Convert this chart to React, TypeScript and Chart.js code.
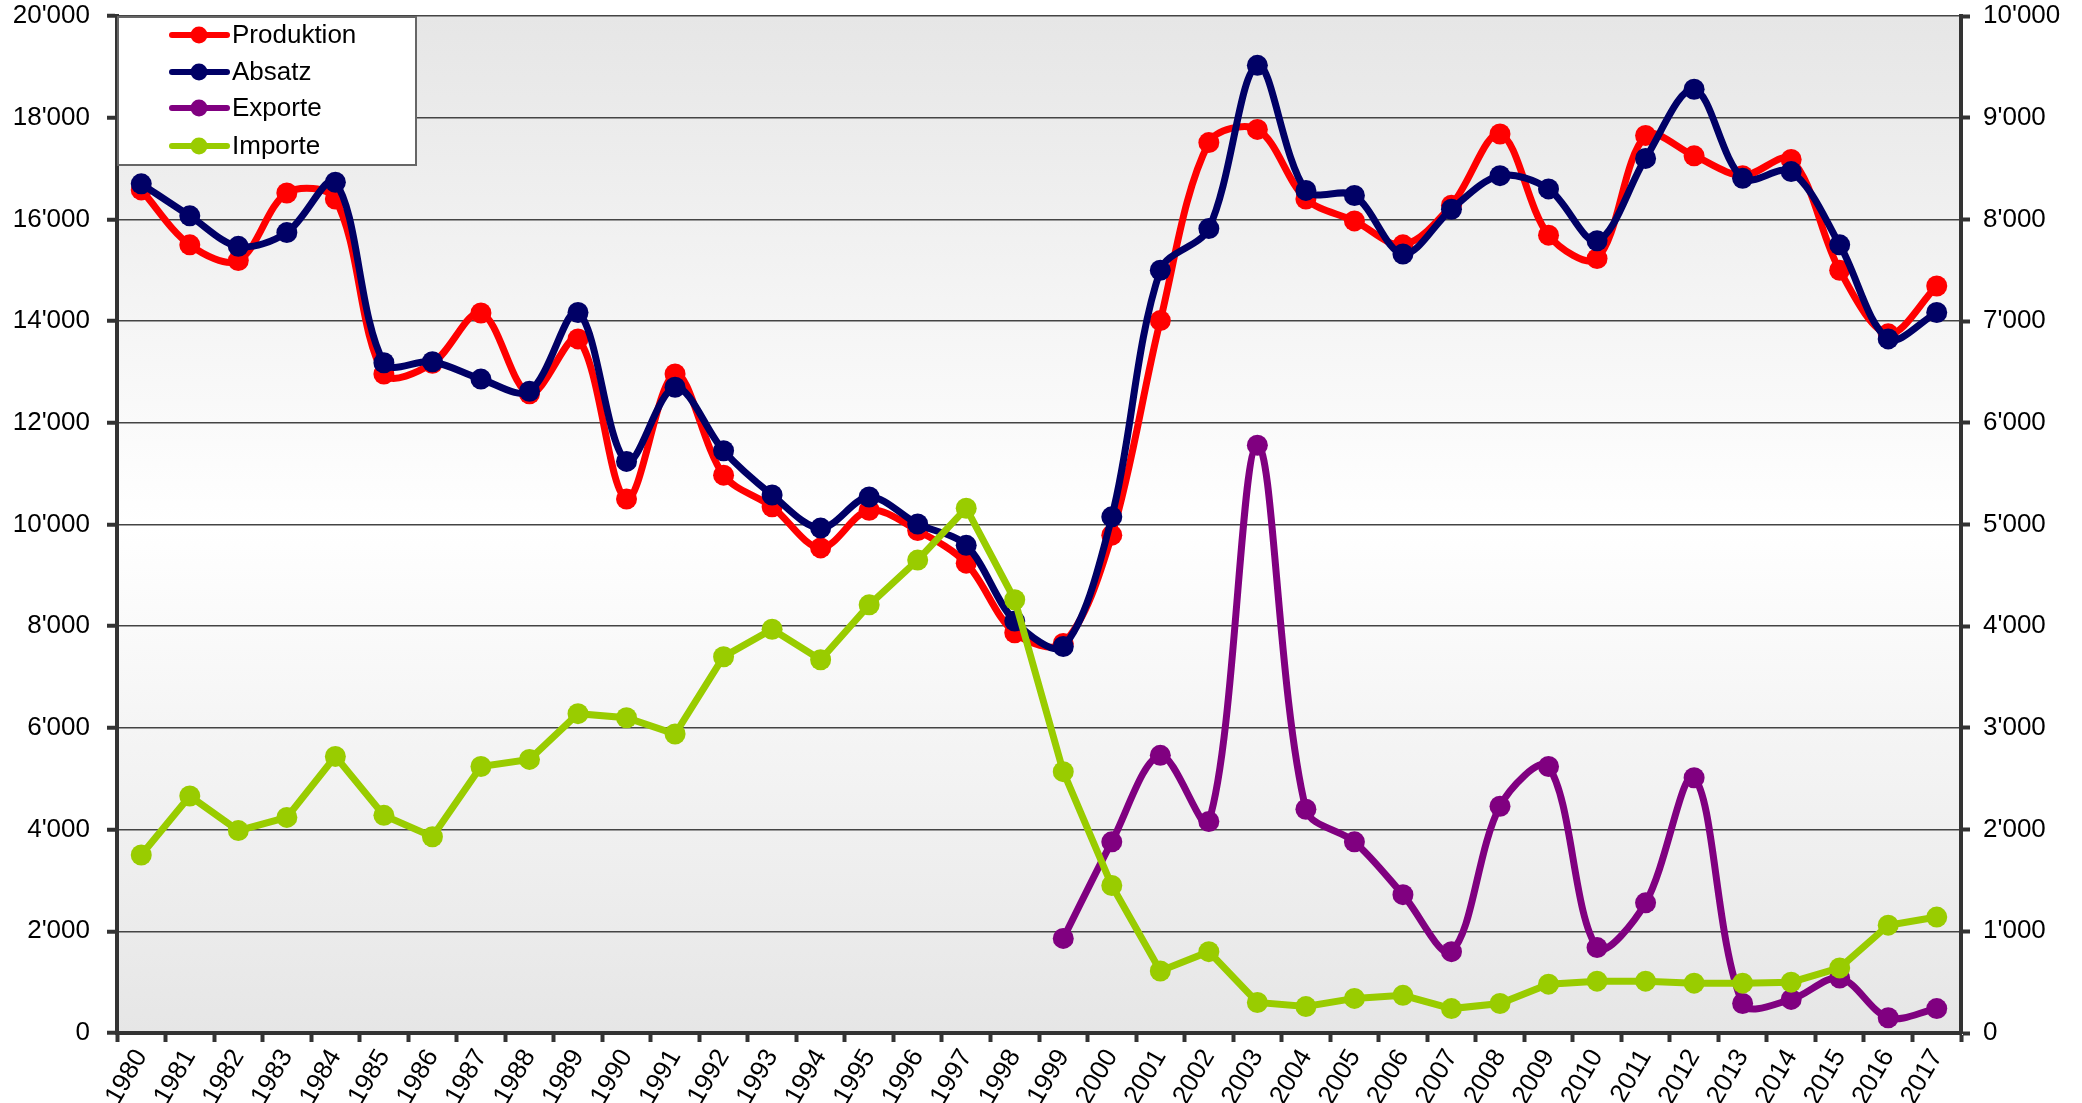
import { useEffect, useRef } from 'react';
import { Chart, registerables } from 'chart.js';

Chart.register(...registerables);

const years = ['1980','1981','1982','1983','1984','1985','1986','1987','1988','1989','1990','1991','1992','1993','1994','1995','1996','1997','1998','1999','2000','2001','2002','2003','2004','2005','2006','2007','2008','2009','2010','2011','2012','2013','2014','2015','2016','2017'];

const produktion = [16580, 15500, 15190, 16520, 16400, 12960, 13170, 14160, 12570, 13650, 10500, 12960, 10970, 10350, 9540, 10280, 9880, 9240, 7870, 7660, 9790, 14010, 17510, 17770, 16400, 15970, 15500, 16280, 17680, 15690, 15230, 17650, 17250, 16860, 17180, 15000, 13750, 14690];

const absatz = [16700, 16070, 15470, 15740, 16730, 13180, 13200, 12860, 12620, 14170, 11240, 12700, 11450, 10580, 9930, 10540, 10010, 9590, 8100, 7600, 10150, 15000, 15820, 19030, 16570, 16470, 15320, 16200, 16860, 16600, 15580, 17200, 18560, 16810, 16940, 15500, 13650, 14170];

const exporte = [null, null, null, null, null, null, null, null, null, null, null, null, null, null, null, null, null, null, null, 930, 1880, 2730, 2080, 5780, 2200, 1880, 1360, 800, 2230, 2620, 840, 1280, 2510, 290, 330, 540, 150, 240];

const importe = [1750, 2330, 1990, 2120, 2720, 2140, 1930, 2620, 2690, 3140, 3100, 2940, 3700, 3970, 3670, 4210, 4650, 5160, 4260, 2570, 1450, 610, 800, 300, 260, 340, 370, 240, 290, 480, 510, 510, 490, 490, 500, 640, 1060, 1140];

const leftMax = 20000;
const leftStep = 2000;
const rightMax = 10000;
const rightStep = 1000;

const seriesNames = ['Produktion', 'Absatz', 'Exporte', 'Importe'];
const seriesColors = ['#ff0000', '#000066', '#800080', '#99cc00'];

const FONT = '"Liberation Sans", Arial, sans-serif';

function fmt(v: number): string {
  const s = Math.round(v).toString();
  return s.length > 3 ? s.slice(0, -3) + "'" + s.slice(-3) : s;
}

const bgPlugin = {
  id: 'bgPlugin',
  beforeDraw(chart: any) {
    const { ctx, chartArea, width, height } = chart;
    ctx.save();
    ctx.fillStyle = '#ffffff';
    ctx.fillRect(0, 0, width, height);
    const g = ctx.createLinearGradient(0, chartArea.top, 0, chartArea.bottom);
    g.addColorStop(0, '#e6e6e6');
    g.addColorStop(0.5, '#ffffff');
    g.addColorStop(1, '#e6e6e6');
    ctx.fillStyle = g;
    ctx.fillRect(chartArea.left, chartArea.top, chartArea.right - chartArea.left, chartArea.bottom - chartArea.top);
    ctx.restore();
  },
};

const legendPlugin = {
  id: 'boxLegend',
  afterDraw(chart: any) {
    const { ctx, chartArea } = chart;
    const x0 = chartArea.left + 1;
    const y0 = chartArea.top + 1;
    const w = 298;
    const h = 148;
    ctx.save();
    ctx.fillStyle = '#ffffff';
    ctx.fillRect(x0, y0, w, h);
    ctx.strokeStyle = '#666666';
    ctx.lineWidth = 2;
    ctx.strokeRect(x0, y0, w, h);
    const rows = [19, 56, 92, 130];
    ctx.font = `26px ${FONT}`;
    ctx.textBaseline = 'middle';
    ctx.textAlign = 'left';
    seriesNames.forEach((name, i) => {
      const y = chartArea.top + rows[i];
      ctx.strokeStyle = seriesColors[i];
      ctx.lineWidth = 6;
      ctx.lineCap = 'round';
      ctx.beginPath();
      ctx.moveTo(172, y);
      ctx.lineTo(227, y);
      ctx.stroke();
      ctx.fillStyle = seriesColors[i];
      ctx.beginPath();
      ctx.arc(199, y, 8.5, 0, Math.PI * 2);
      ctx.fill();
      ctx.fillStyle = '#000000';
      ctx.fillText(name, 232, y + 1);
    });
    ctx.restore();
  },
};

export default function App() {
  const ref = useRef<HTMLCanvasElement>(null);

  useEffect(() => {
    const canvas = ref.current;
    if (!canvas) return;
    const lineDs = (i: number, data: (number | null)[], axis: string, tension: number, order: number) => ({
      label: seriesNames[i],
      data,
      yAxisID: axis,
      borderColor: seriesColors[i],
      backgroundColor: seriesColors[i],
      pointBackgroundColor: seriesColors[i],
      pointBorderColor: seriesColors[i],
      pointBorderWidth: 0,
      pointRadius: 10.5,
      borderWidth: 7,
      tension,
      fill: false,
      spanGaps: false,
      order,
    });

    const chart = new Chart(canvas, {
      type: 'line',
      data: {
        labels: years,
        datasets: [
          lineDs(0, produktion, 'y', 0.33, 4),
          lineDs(1, absatz, 'y', 0.33, 3),
          lineDs(2, exporte, 'y1', 0.33, 2),
          lineDs(3, importe, 'y1', 0, 1),
        ],
      },
      options: {
        responsive: false,
        animation: false,
        layout: { padding: { top: 16, left: 0, right: 0, bottom: 0 } },
        plugins: {
          legend: { display: false },
          tooltip: { enabled: false },
        },
        scales: {
          x: {
            type: 'category',
            offset: true,
            grid: {
              offset: true,
              drawOnChartArea: false,
              drawTicks: true,
              tickLength: 9,
              tickColor: '#333333',
              tickWidth: 4,
            },
            border: { color: '#333333', width: 4 },
            ticks: {
              autoSkip: false,
              minRotation: 60,
              maxRotation: 60,
              color: '#000000',
              padding: 2,
              font: { size: 26, family: FONT },
            },
            afterFit: (s: any) => { s.height = 70; s.paddingLeft = 0; s.paddingRight = 0; },
          },
          y: {
            type: 'linear',
            position: 'left',
            min: 0,
            max: leftMax,
            grid: {
              color: '#444444',
              lineWidth: 1.5,
              drawTicks: true,
              tickLength: 10,
              tickColor: '#333333',
              tickWidth: 4,
            },
            border: { color: '#333333', width: 4 },
            ticks: {
              stepSize: leftStep,
              color: '#000000',
              padding: 17,
              font: { size: 26, family: FONT },
              callback: (v: any) => fmt(Number(v)),
            },
            afterFit: (s: any) => { s.width = 117; s.paddingTop = 0; s.paddingBottom = 0; },
          },
          y1: {
            type: 'linear',
            position: 'right',
            min: 0,
            max: rightMax,
            grid: {
              drawOnChartArea: false,
              drawTicks: true,
              tickLength: 9,
              tickColor: '#333333',
              tickWidth: 4,
            },
            border: { color: '#333333', width: 4 },
            ticks: {
              stepSize: rightStep,
              color: '#000000',
              padding: 13,
              font: { size: 26, family: FONT },
              callback: (v: any) => fmt(Number(v)),
            },
            afterFit: (s: any) => { s.width = 121; s.paddingTop = 0; s.paddingBottom = 0; },
          },
        },
      } as any,
      plugins: [bgPlugin, legendPlugin],
    });
    return () => chart.destroy();
  }, []);

  return (
    <div style={{ position: 'absolute', left: 0, top: 0, width: 2082, height: 1103, background: '#ffffff' }}>
      <canvas ref={ref} width={2082} height={1103} style={{ display: 'block', width: 2082, height: 1103 }} />
    </div>
  );
}
